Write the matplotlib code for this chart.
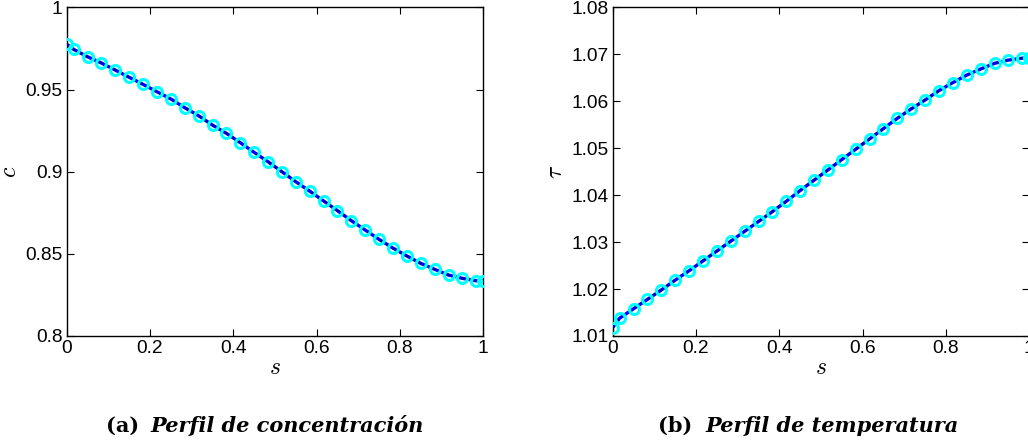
import matplotlib
matplotlib.use("Agg")
import matplotlib.pyplot as plt

# ---- data ----
s = [0.0, 0.0167, 0.05, 0.0833, 0.1167, 0.15, 0.1833, 0.2167, 0.25, 0.2833,
     0.3167, 0.35, 0.3833, 0.4167, 0.45, 0.4833, 0.5167, 0.55, 0.5833, 0.6167,
     0.65, 0.6833, 0.7167, 0.75, 0.7833, 0.8167, 0.85, 0.8833, 0.9167, 0.95,
     0.9833, 1.0]
c = [0.9776, 0.9745, 0.9700, 0.9662, 0.9619, 0.9575, 0.9532, 0.9487, 0.9443, 0.9390,
     0.9341, 0.9284, 0.9234, 0.9177, 0.9118, 0.9061, 0.9000, 0.8939, 0.8882, 0.8822,
     0.8763, 0.8702, 0.8645, 0.8588, 0.8535, 0.8487, 0.8442, 0.8406, 0.8371, 0.8351,
     0.8336, 0.8336]
tau = [1.0118, 1.0138, 1.0158, 1.0178, 1.0198, 1.0219, 1.0239, 1.0260, 1.0281, 1.0302,
       1.0323, 1.0344, 1.0365, 1.0387, 1.0410, 1.0432, 1.0454, 1.0476, 1.0498, 1.0520,
       1.0542, 1.0564, 1.0584, 1.0603, 1.0623, 1.0640, 1.0656, 1.0669, 1.0681, 1.0688,
       1.0692, 1.0693]

xticks = [0, 0.2, 0.4, 0.6, 0.8, 1]
xticklabels = ["0", "0.2", "0.4", "0.6", "0.8", "1"]
c_ticks = [0.8, 0.85, 0.9, 0.95, 1.0]
c_ticklabels = ["0.8", "0.85", "0.9", "0.95", "1"]
tau_ticks = [1.01, 1.02, 1.03, 1.04, 1.05, 1.06, 1.07, 1.08]
tau_ticklabels = ["1.01", "1.02", "1.03", "1.04", "1.05", "1.06", "1.07", "1.08"]
captions = [("(a)", "Perfil de concentración"), ("(b)", "Perfil de temperatura")]
ylabels = [r"$c$", r"$\tau$"]

plt.rcParams["mathtext.fontset"] = "cm"
plt.rcParams["font.family"] = ["Liberation Sans", "DejaVu Sans"]

W, H = 1028, 448
fig = plt.figure(figsize=(W / 100, H / 100), dpi=100)

ax1 = fig.add_axes([66.7 / W, 112 / H, 416.6 / W, 328.5 / H])
ax2 = fig.add_axes([612.7 / W, 112 / H, 416.6 / W, 328.5 / H])

def style(ax, yvals, yt, ytl, ylim, ylab):
    ax.plot(s, yvals, color=(0, 0, 1), lw=2.4, zorder=2)
    ax.plot(s, yvals, color=(0, 0, 0.55), lw=1.6, ls=(0, (1.2, 2.2)), zorder=3)
    ax.plot(s, yvals, ls="none", marker="o", ms=7.2, mfc="none",
            mec=(0, 1, 1), mew=2.2, zorder=4)
    ax.set_xlim(0, 1)
    ax.set_ylim(*ylim)
    ax.set_xticks(xticks)
    ax.set_xticklabels(xticklabels)
    ax.set_yticks(yt)
    ax.set_yticklabels(ytl)
    ax.tick_params(direction="in", length=5, width=0.8, top=True, right=True,
                   labelsize=13.8, pad=3, colors="black")
    for sp in ax.spines.values():
        sp.set_linewidth(1.0)
    ax.set_xlabel(r"$s$", fontsize=17, labelpad=0)
    ax.set_ylabel(ylab, fontsize=17, labelpad=3)

style(ax1, c, c_ticks, c_ticklabels, (0.8, 1.0), ylabels[0])
style(ax2, tau, tau_ticks, tau_ticklabels, (1.01, 1.08), ylabels[1])

cap_x = [(106 / W, 150.7 / W), (658 / W, 705 / W)]
for (lab, txt), (xa, xb) in zip(captions, cap_x):
    fig.text(xa, 16 / H, lab, family="DejaVu Serif", weight="bold",
             fontsize=15, ha="left", va="baseline")
    fig.text(xb, 16 / H, txt, family="DejaVu Serif", weight="bold",
             style="italic", fontsize=15, ha="left", va="baseline")

fig.savefig("out.png", dpi=100)
